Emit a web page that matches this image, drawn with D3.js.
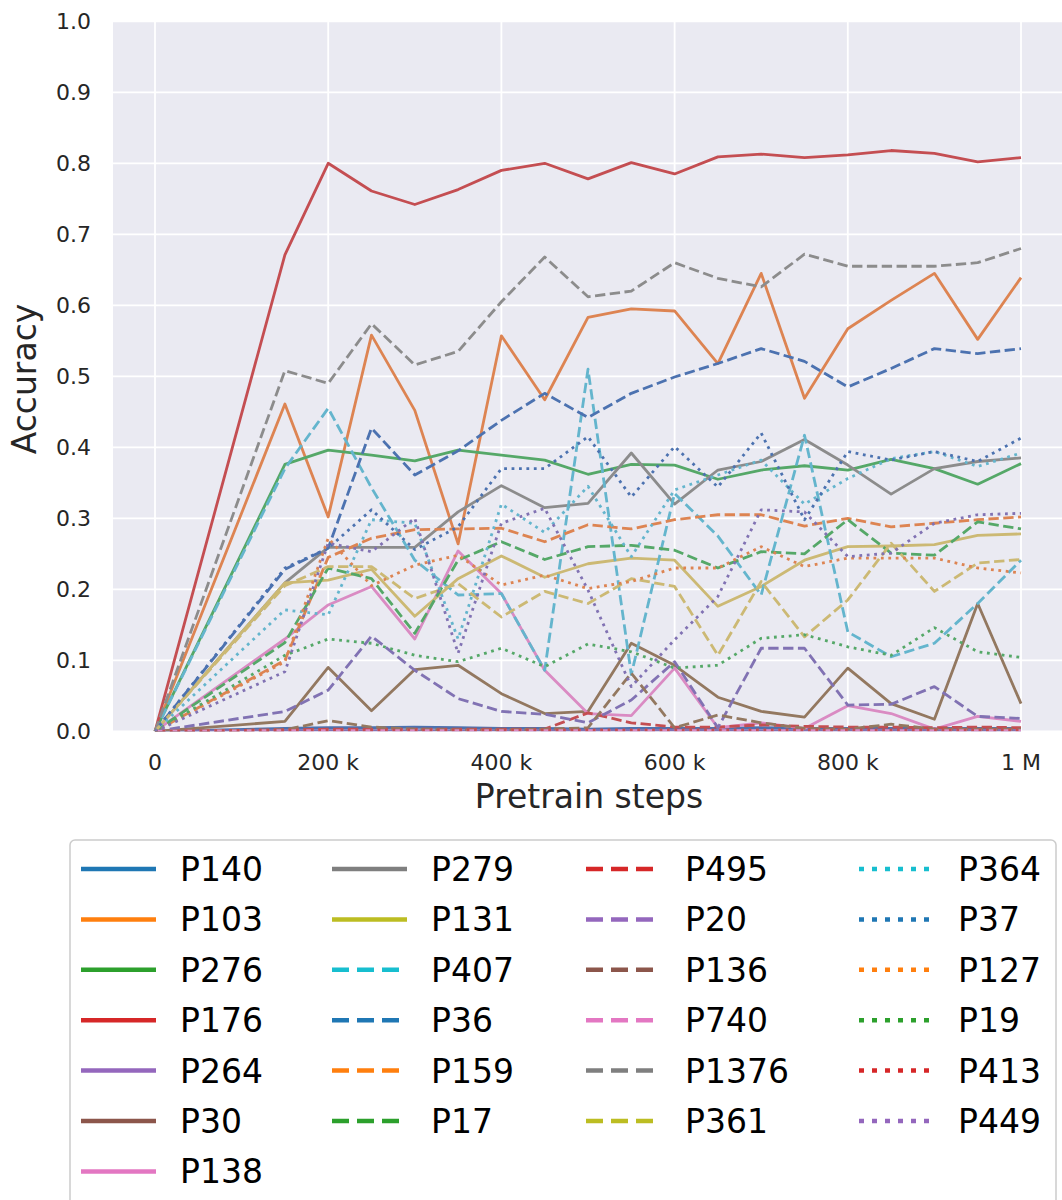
<!DOCTYPE html>
<html>
<head>
<meta charset="utf-8">
<script src="https://cdn.jsdelivr.net/npm/d3@7"></script>
<style>
  body { margin: 0; background: #fff; }
  svg { display: block; font-family: "DejaVu Sans", sans-serif; }
</style>
</head>
<body>
<svg width="1062" height="1200"></svg>
<script>
// pretrain steps at which each relation was evaluated
const steps = [0, 150000, 200000, 250000, 300000, 350000, 400000, 450000, 500000, 550000,
  600000, 650000, 700000, 750000, 800000, 850000, 900000, 950000, 1000000];

// accuracy per relation
const P140 = [0, .004, .005, .005, .006, .005, .004, .004, .003, .004, .004, .004, .005, .004, .004, .004, .004, .004, .004];
const P103 = [0, .461, .302, .558, .452, .264, .557, .467, .583, .595, .592, .518, .645, .469, .567, .607, .645, .552, .639];
const P276 = [0, .376, .396, .389, .381, .396, .389, .382, .362, .376, .375, .355, .368, .374, .368, .383, .370, .348, .377];
const P176 = [0, .671, .800, .761, .742, .763, .790, .800, .778, .801, .785, .809, .813, .808, .812, .818, .814, .802, .808];
const P264 = [0, .001, .001, .001, .001, .001, .001, .001, .001, .001, .001, .001, .001, .001, .001, .001, .001, .001, .001];
const P30 = [0, .014, .090, .029, .087, .093, .053, .025, .028, .124, .093, .048, .028, .020, .089, .039, .017, .180, .039];
const P138 = [0, .130, .178, .204, .130, .254, .194, .086, .025, .022, .089, .005, .012, .004, .036, .025, .003, .021, .014];
const P279 = [0, .209, .259, .259, .259, .309, .346, .315, .321, .392, .320, .368, .380, .411, .375, .334, .370, .380, .385];
const P131 = [0, .209, .213, .228, .162, .215, .247, .217, .236, .244, .241, .176, .204, .241, .260, .261, .263, .276, .278];
const P407 = [0, .370, .455, .343, .241, .192, .194, .086, .510, .080, .335, .275, .192, .417, .140, .105, .124, .180, .241];
const P36 = [0, .228, .258, .427, .361, .395, .438, .476, .442, .476, .499, .518, .539, .521, .485, .511, .539, .532, .539];
const P159 = [0, .100, .245, .272, .284, .285, .286, .267, .291, .285, .298, .305, .305, .289, .300, .288, .293, .298, .302];
const P17 = [0, .125, .230, .215, .138, .241, .267, .242, .260, .262, .255, .230, .253, .250, .298, .251, .248, .295, .285];
const P495 = [0, .002, .003, .003, .003, .003, .003, .003, .026, .012, .006, .006, .009, .007, .006, .006, .005, .006, .005];
const P20 = [0, .028, .058, .134, .086, .046, .028, .024, .012, .044, .098, .005, .117, .117, .037, .038, .063, .021, .018];
const P136 = [0, .002, .015, .006, .003, .002, .002, .003, .005, .082, .005, .023, .012, .004, .003, .010, .003, .003, .003];
const P740 = [0, .001, .001, .001, .001, .001, .001, .001, .001, .001, .001, .001, .001, .001, .001, .001, .001, .001, .001];
const P1376 = [0, .508, .490, .574, .516, .535, .605, .668, .612, .620, .660, .638, .626, .672, .655, .655, .655, .660, .680];
const P361 = [0, .205, .232, .232, .187, .208, .161, .197, .180, .215, .204, .107, .211, .133, .185, .265, .197, .237, .242];
const P364 = [0, .171, .164, .298, .293, .130, .320, .280, .345, .246, .340, .361, .382, .320, .356, .384, .394, .373, .392];
const P37 = [0, .230, .258, .312, .256, .288, .370, .370, .415, .330, .401, .344, .420, .298, .394, .382, .394, .380, .413];
const P127 = [0, .098, .272, .205, .234, .248, .206, .220, .201, .211, .230, .230, .260, .232, .244, .244, .244, .230, .223];
const P19 = [0, .107, .130, .124, .107, .098, .117, .091, .123, .112, .089, .093, .131, .136, .119, .107, .146, .112, .104];
const P413 = [0, .002, .002, .002, .002, .002, .002, .002, .002, .002, .002, .002, .002, .002, .002, .002, .002, .002, .002];
const P449 = [0, .084, .265, .253, .300, .110, .293, .314, .199, .063, .129, .190, .312, .309, .246, .251, .293, .305, .307];

const names = ["P140", "P103", "P276", "P176", "P264", "P30", "P138", "P279", "P131",
  "P407", "P36", "P159", "P17", "P495", "P20", "P136", "P740", "P1376", "P361",
  "P364", "P37", "P127", "P19", "P413", "P449"];
const values = [P140, P103, P276, P176, P264, P30, P138, P279, P131,
  P407, P36, P159, P17, P495, P20, P136, P740, P1376, P361,
  P364, P37, P127, P19, P413, P449];
const styles = ["solid", "solid", "solid", "solid", "solid", "solid", "solid", "solid", "solid",
  "dashed", "dashed", "dashed", "dashed", "dashed", "dashed", "dashed", "dashed", "dashed", "dashed",
  "dotted", "dotted", "dotted", "dotted", "dotted", "dotted"];

const xTicks = [0, 200000, 400000, 600000, 800000, 1000000];
const xTickLabels = ["0", "200 k", "400 k", "600 k", "800 k", "1 M"];
const yTicks = [0, .1, .2, .3, .4, .5, .6, .7, .8, .9, 1.0];

// plot uses seaborn "deep", legend uses tab10 (as in the original)
const deep = ["#4C72B0", "#DD8452", "#55A868", "#C44E52", "#8172B3", "#937860", "#DA8BC3", "#8C8C8C", "#CCB974", "#64B5CD"];
const tab10 = ["#1f77b4", "#ff7f0e", "#2ca02c", "#d62728", "#9467bd", "#8c564b", "#e377c2", "#7f7f7f", "#bcbd22", "#17becf"];

const series = names.map((name, i) => ({
  name,
  style: styles[i],
  ci: i % 10,
  points: steps.map((s, j) => ({ step: s, acc: values[i][j] }))
}));

const svg = d3.select("svg");
const plot = { left: 113, right: 1062, top: 21.3, bottom: 731.3 };

const x = d3.scaleLinear().domain([0, 1000000]).range([155, 1021]);
const y = d3.scaleLinear().domain([0, 1]).range([plot.bottom, plot.top]);

svg.append("rect")
  .attr("x", plot.left).attr("y", plot.top)
  .attr("width", plot.right - plot.left).attr("height", plot.bottom - plot.top)
  .attr("fill", "#EAEAF2");

svg.append("clipPath").attr("id", "clip")
  .append("rect")
  .attr("x", plot.left).attr("y", plot.top)
  .attr("width", plot.right - plot.left).attr("height", plot.bottom - plot.top);

// grid
svg.append("g").selectAll("line").data(yTicks).enter().append("line")
  .attr("x1", plot.left).attr("x2", plot.right)
  .attr("y1", d => y(d)).attr("y2", d => y(d))
  .attr("stroke", "#fff").attr("stroke-width", 1.8);
svg.append("g").selectAll("line").data(xTicks).enter().append("line")
  .attr("x1", d => x(d)).attr("x2", d => x(d))
  .attr("y1", plot.top).attr("y2", plot.bottom)
  .attr("stroke", "#fff").attr("stroke-width", 1.8);

// tick labels
svg.append("g").selectAll("text").data(yTicks).enter().append("text")
  .attr("x", 91).attr("y", d => y(d) + 8)
  .attr("text-anchor", "end")
  .attr("font-size", 22).attr("fill", "#262626")
  .text(d => d.toFixed(1));
svg.append("g").selectAll("text").data(xTicks).enter().append("text")
  .attr("x", d => x(d)).attr("y", 770)
  .attr("text-anchor", "middle")
  .attr("font-size", 22).attr("fill", "#262626")
  .text((d, i) => xTickLabels[i]);

svg.append("text")
  .attr("transform", "translate(36,379) rotate(-90)")
  .attr("text-anchor", "middle")
  .attr("font-size", 33).attr("fill", "#262626")
  .text("Accuracy");
svg.append("text")
  .attr("x", 589).attr("y", 808)
  .attr("text-anchor", "middle")
  .attr("font-size", 33).attr("fill", "#262626")
  .text("Pretrain steps");

const dashFor = (style, lw) =>
  style === "dashed" ? `${3.7 * lw},${1.6 * lw}` :
  style === "dotted" ? `${lw},${1.65 * lw}` : null;

const line = d3.line().x(d => x(d.step)).y(d => y(d.acc));

const lw = 2.8;
svg.append("g").attr("clip-path", "url(#clip)")
  .selectAll("path").data(series).enter().append("path")
  .attr("d", d => line(d.points))
  .attr("fill", "none")
  .attr("stroke", d => deep[d.ci])
  .attr("stroke-width", lw)
  .attr("stroke-linejoin", "round")
  .attr("stroke-dasharray", d => dashFor(d.style, lw));

// legend
const legend = svg.append("g");
legend.append("rect")
  .attr("x", 70).attr("y", 840)
  .attr("width", 986).attr("height", 380)
  .attr("rx", 5)
  .attr("fill", "#fff").attr("stroke", "#cccccc").attr("stroke-width", 1.5);

const colCounts = [7, 6, 6, 6];
const colHandleX = [81, 332, 586, 859];
const rowY = i => 869 + i * 50.4;
const entries = series.map((d, i) => {
  let c = 0, r = i;
  while (r >= colCounts[c]) { r -= colCounts[c]; c++; }
  return { ...d, col: c, row: r };
});

const legendLw = 4.5;
const items = legend.selectAll("g.item").data(entries).enter().append("g")
  .attr("transform", d => `translate(${colHandleX[d.col]},${rowY(d.row)})`);
items.append("line")
  .attr("x1", 0).attr("x2", 75).attr("y1", 0).attr("y2", 0)
  .attr("stroke", d => tab10[d.ci])
  .attr("stroke-width", legendLw)
  .attr("stroke-dasharray", d =>
    d.style === "dashed" ? "17,8" : d.style === "dotted" ? "5,8" : null);
items.append("text")
  .attr("x", 99).attr("y", 12)
  .attr("font-size", 33).attr("fill", "#000")
  .text(d => d.name);
</script>
</body>
</html>
